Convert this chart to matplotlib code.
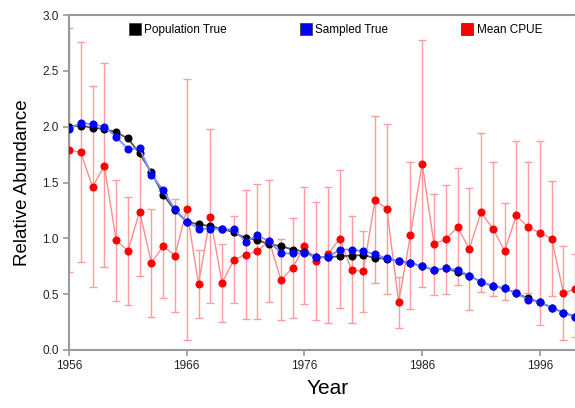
import numpy as np
import matplotlib
matplotlib.use("Agg")
import matplotlib.pyplot as plt
from matplotlib.lines import Line2D

plt.rcParams['font.family'] = ['Liberation Sans', 'DejaVu Sans']

years = np.arange(1956, 2000)

# Population True (negro)
pop_true = [2.00, 2.01, 1.99, 1.98, 1.95, 1.895, 1.76, 1.59, 1.39, 1.25,
            1.15, 1.125, 1.11, 1.085, 1.054, 1.003, 0.985, 0.946, 0.93, 0.90,
            0.88, 0.833, 0.83, 0.84, 0.845, 0.85, 0.824, 0.818, 0.797, 0.776,
            0.752, 0.716, 0.73, 0.70, 0.666, 0.61, 0.573, 0.552, 0.507, 0.463,
            0.427, 0.38, 0.335, 0.30]

# Sampled True (azul)
samp_true = [1.98, 2.035, 2.02, 2.00, 1.91, 1.80, 1.805, 1.57, 1.43, 1.26,
             1.15, 1.087, 1.087, 1.083, 1.08, 0.97, 1.027, 0.973, 0.866, 0.866,
             0.866, 0.83, 0.83, 0.90, 0.90, 0.884, 0.857, 0.82, 0.797, 0.776,
             0.752, 0.716, 0.73, 0.72, 0.666, 0.61, 0.573, 0.552, 0.507, 0.452,
             0.427, 0.38, 0.33, 0.30]

# Mean CPUE (rojo) con limites de error
cpue = [1.79, 1.77, 1.46, 1.65, 0.985, 0.887, 1.24, 0.78, 0.93, 0.845,
        1.26, 0.59, 1.19, 0.60, 0.806, 0.854, 0.884, 0.98, 0.627, 0.737,
        0.93, 0.80, 0.857, 0.997, 0.716, 0.707, 1.343, 1.263, 0.427, 1.027,
        1.67, 0.95, 0.99, 1.10, 0.907, 1.233, 1.087, 0.89, 1.205, 1.10,
        1.05, 0.997, 0.51, 0.546]
cpue_hi = [2.88, 2.76, 2.36, 2.57, 1.52, 1.37, 1.81, 1.26, 1.40, 1.35,
           2.43, 0.90, 1.98, 0.95, 1.20, 1.43, 1.49, 1.52, 0.99, 1.18,
           1.457, 1.325, 1.46, 1.61, 1.20, 1.066, 2.096, 2.024, 0.65, 1.686,
           2.78, 1.40, 1.48, 1.63, 1.454, 1.943, 1.686, 1.32, 1.87, 1.68,
           1.875, 1.51, 0.93, 0.857]
cpue_lo = [0.70, 0.785, 0.567, 0.74, 0.44, 0.40, 0.66, 0.30, 0.465, 0.34,
           0.09, 0.29, 0.42, 0.25, 0.42, 0.275, 0.275, 0.43, 0.27, 0.29,
           0.41, 0.27, 0.24, 0.38, 0.24, 0.343, 0.597, 0.50, 0.20, 0.367,
           0.567, 0.49, 0.50, 0.585, 0.358, 0.52, 0.487, 0.445, 0.537, 0.51,
           0.22, 0.48, 0.09, 0.12]

cpue = np.array(cpue)
yerr = [cpue - np.array(cpue_lo), np.array(cpue_hi) - cpue]

W, H = 575, 408
fig = plt.figure(figsize=(W / 100, H / 100), dpi=100)
ax = fig.add_axes([69 / W, 58 / H, (587 - 69) / W, 335 / H])

# CPUE con barras de error
ax.errorbar(years, cpue, yerr=yerr, fmt='none', ecolor='#ff9c9c', elinewidth=1.0,
            capsize=3, capthick=1.0, zorder=1)
ax.plot(years, cpue, color='#ff8c8c', lw=1.0, zorder=2)
ax.plot(years, cpue, 'o', color='red', ms=4.8, zorder=3)

# Poblacion y muestreo
ax.plot(years, pop_true, color='#555555', lw=1.3, zorder=4)
ax.plot(years, pop_true, 'o', color='black', ms=4.8, zorder=5)
ax.plot(years, samp_true, color='#7f8fff', lw=1.3, zorder=6)
ax.plot(years, samp_true, 'o', color='blue', ms=4.8, zorder=7)

ax.set_xlim(1956, 2000)
ax.set_ylim(0, 3.0)
ax.set_xticks([1956, 1966, 1976, 1986, 1996])
ax.set_yticks(np.arange(0, 3.01, 0.5))
ax.set_yticklabels([f"{v:.1f}" for v in np.arange(0, 3.01, 0.5)])

for s in ['top', 'left', 'bottom']:
    ax.spines[s].set_color('#999999')
    ax.spines[s].set_linewidth(1.5)
ax.spines['right'].set_visible(False)
ax.tick_params(axis='both', colors='#999999', labelcolor='#222222', labelsize=8.5,
               length=4, width=1.2)

ax.set_xlabel("Year", fontsize=15, labelpad=5)
ax.set_ylabel("Relative Abundance", fontsize=13.5, labelpad=8)

handles = [Line2D([], [], ls='none', marker='s', ms=9, mfc=c, mec='#444444', mew=0.6)
           for c in ['black', 'blue', 'red']]
ax.legend(handles, ["Population True", "Sampled True", "Mean CPUE"], ncol=3,
          loc='upper left', bbox_to_anchor=(0.095, 1.005), frameon=False,
          fontsize=8.5, handletextpad=0.3, columnspacing=6.2, handlelength=1.0)

fig.savefig("out.png", dpi=100)
